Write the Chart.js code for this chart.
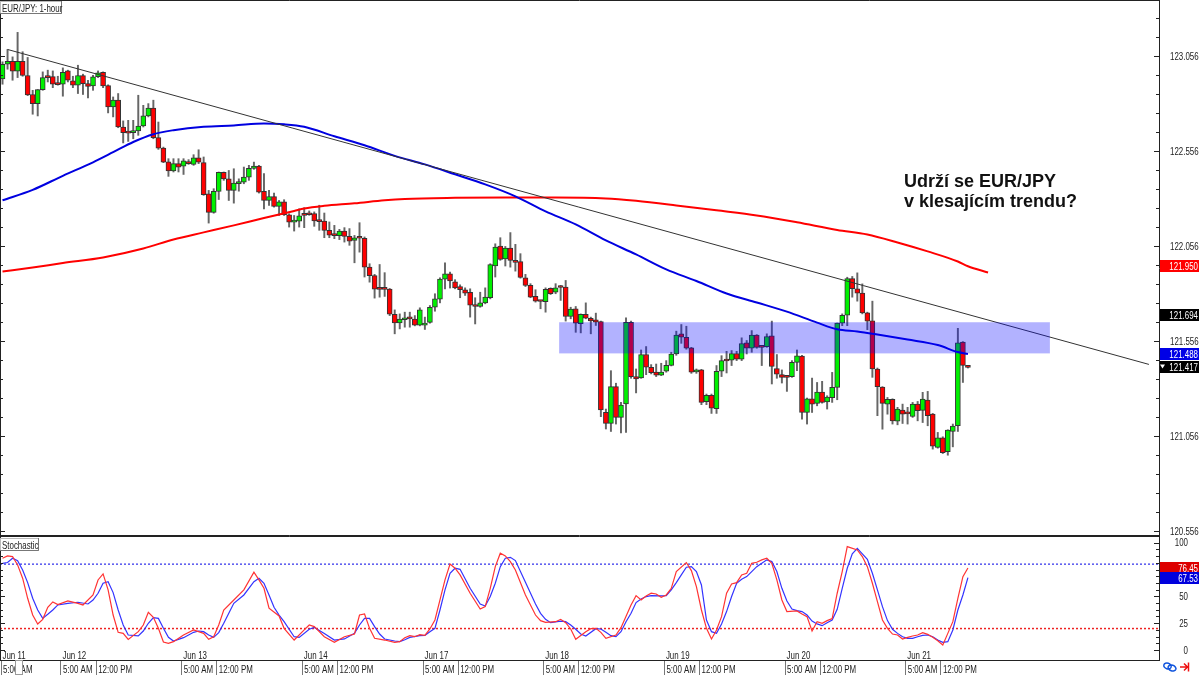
<!DOCTYPE html>
<html>
<head>
<meta charset="utf-8">
<title>EUR/JPY 1-hour</title>
<style>
    html, body { margin: 0; padding: 0; background: #fff; }
    canvas { position: absolute; left: 0; display: block; }
    #priceChart { top: 0; }
    #stochChart { top: 536px; }
</style>
<script src="https://cdn.jsdelivr.net/npm/chart.js@4/dist/chart.umd.min.js"></script>
</head>
<body>
<canvas id="priceChart" width="1200" height="536"></canvas>
<canvas id="stochChart" width="1200" height="139"></canvas>
<script>
// Candles, one entry per hourly bar
const opens = [
    122.936,123.013,123.028,122.977,123.028,122.954,122.854,122.806,122.880,122.948,
    122.948,122.908,122.908,122.978,122.926,122.903,122.954,122.911,122.899,122.948,
    122.970,122.901,122.788,122.824,122.683,122.655,122.653,122.662,122.688,122.741,
    122.783,122.627,122.572,122.500,122.451,122.490,122.476,122.500,122.486,122.520,
    122.495,122.331,122.233,122.344,122.444,122.410,122.349,122.384,122.393,122.419,
    122.465,122.477,122.344,122.296,122.317,122.265,122.289,122.221,122.182,122.187,
    122.223,122.227,122.227,122.190,122.188,122.139,122.116,122.111,122.135,122.107,
    122.086,122.107,122.097,121.945,121.900,121.831,121.831,121.829,121.696,121.652,
    121.668,121.678,121.671,121.640,121.640,121.654,121.734,121.777,121.882,121.910,
    121.868,121.843,121.826,121.812,121.747,121.738,121.757,121.784,121.952,122.056,
    121.989,122.046,121.979,121.974,121.889,121.849,121.792,121.768,121.763,121.833,
    121.813,121.842,121.840,121.685,121.725,121.647,121.696,121.675,121.668,121.659,
    121.181,121.123,121.316,121.154,121.225,121.655,121.369,121.362,121.485,121.418,
    121.392,121.376,121.397,121.428,121.488,121.594,121.576,121.520,121.393,121.404,
    121.237,121.270,121.200,121.397,121.457,121.455,121.490,121.460,121.546,121.518,
    121.588,121.527,121.527,121.583,121.411,121.379,121.369,121.369,121.444,121.477,
    121.180,121.252,121.228,121.287,121.236,121.258,121.312,121.650,121.692,121.885,
    121.831,121.808,121.704,121.662,121.409,121.314,121.224,121.249,121.134,121.192,
    121.180,121.159,121.224,121.191,121.245,121.171,120.996,121.047,120.973,121.080,
    121.110,121.551,121.426
];
const highs = [
    123.026,123.091,123.052,123.181,123.079,123.049,122.876,122.880,122.973,122.982,
    122.978,122.950,122.994,122.982,122.950,123.008,122.961,122.929,122.955,122.978,
    122.973,122.905,122.841,122.859,122.715,122.718,122.718,122.850,122.797,122.806,
    122.824,122.709,122.577,122.516,122.516,122.516,122.516,122.511,122.537,122.563,
    122.525,122.349,122.358,122.446,122.446,122.454,122.463,122.410,122.472,122.481,
    122.498,122.481,122.437,122.349,122.335,122.296,122.300,122.226,122.217,122.252,
    122.258,122.241,122.236,122.271,122.230,122.183,122.165,122.144,122.153,122.148,
    122.112,122.179,122.104,121.963,121.907,121.959,121.916,121.833,121.720,121.699,
    121.708,121.708,121.690,121.731,121.682,121.743,121.805,121.889,121.968,121.919,
    121.879,121.852,121.836,121.831,121.784,121.813,121.836,121.963,122.068,122.100,
    122.054,122.127,122.065,122.016,121.907,121.858,121.826,121.770,121.836,121.836,
    121.858,121.849,121.875,121.734,121.738,121.699,121.757,121.682,121.703,121.661,
    121.198,121.400,121.334,121.233,121.678,121.661,121.409,121.509,121.527,121.432,
    121.435,121.439,121.453,121.497,121.608,121.643,121.634,121.523,121.409,121.407,
    121.277,121.277,121.427,121.479,121.502,121.506,121.502,121.573,121.559,121.611,
    121.590,121.530,121.594,121.661,121.485,121.404,121.374,121.453,121.509,121.481,
    121.256,121.361,121.338,121.344,121.268,121.391,121.651,121.699,121.892,121.896,
    121.915,121.857,121.708,121.766,121.414,121.316,121.259,121.252,121.207,121.224,
    121.207,121.233,121.238,121.286,121.291,121.175,121.075,121.052,121.089,121.119,
    121.623,121.553,121.428
];
const lows = [
    122.908,122.987,122.929,122.943,122.950,122.848,122.750,122.741,122.876,122.920,
    122.890,122.903,122.845,122.920,122.890,122.859,122.854,122.836,122.876,122.943,
    122.890,122.757,122.736,122.679,122.599,122.607,122.621,122.639,122.683,122.736,
    122.621,122.565,122.495,122.423,122.446,122.446,122.433,122.486,122.481,122.490,
    122.323,122.177,122.229,122.301,122.402,122.296,122.282,122.345,122.384,122.402,
    122.460,122.335,122.252,122.270,122.261,122.217,122.217,122.156,122.135,122.156,
    122.153,122.218,122.160,122.139,122.100,122.100,122.095,122.090,122.077,122.060,
    121.968,122.024,121.893,121.866,121.782,121.787,121.791,121.690,121.594,121.620,
    121.629,121.629,121.636,121.636,121.617,121.650,121.713,121.757,121.831,121.835,
    121.831,121.784,121.796,121.682,121.646,121.734,121.752,121.778,121.893,121.981,
    121.951,121.945,121.924,121.887,121.843,121.784,121.761,121.726,121.708,121.801,
    121.805,121.770,121.661,121.673,121.602,121.599,121.673,121.594,121.638,121.158,
    121.093,121.080,121.119,121.072,121.075,121.360,121.283,121.360,121.379,121.383,
    121.369,121.374,121.392,121.425,121.481,121.544,121.513,121.386,121.386,121.221,
    121.221,121.175,121.175,121.369,121.388,121.427,121.453,121.453,121.488,121.497,
    121.518,121.427,121.523,121.330,121.360,121.335,121.291,121.365,121.400,121.145,
    121.119,121.180,121.215,121.229,121.198,121.233,121.247,121.637,121.637,121.787,
    121.766,121.699,121.616,121.365,121.163,121.092,121.171,121.119,121.115,121.122,
    121.119,121.154,121.136,121.127,121.110,120.987,120.992,120.964,120.955,120.999,
    121.080,121.338,121.414
];
const closes = [
    123.013,123.028,122.977,123.028,122.954,122.852,122.806,122.880,122.943,122.943,
    122.908,122.906,122.971,122.929,122.903,122.954,122.911,122.897,122.947,122.968,
    122.899,122.788,122.824,122.683,122.653,122.651,122.662,122.688,122.741,122.783,
    122.627,122.572,122.498,122.451,122.490,122.472,122.505,122.490,122.520,122.498,
    122.326,122.233,122.344,122.444,122.410,122.349,122.388,122.396,122.419,122.465,
    122.477,122.340,122.296,122.317,122.265,122.289,122.221,122.182,122.193,122.215,
    122.218,122.221,122.188,122.185,122.139,122.114,122.111,122.135,122.107,122.082,
    122.100,122.097,121.945,121.900,121.829,121.828,121.828,121.697,121.652,121.671,
    121.678,121.673,121.640,121.720,121.650,121.734,121.778,121.882,121.910,121.873,
    121.836,121.826,121.808,121.745,121.738,121.757,121.787,121.958,122.051,121.986,
    122.046,121.981,121.970,121.891,121.849,121.787,121.766,121.764,121.828,121.805,
    121.836,121.838,121.685,121.724,121.650,121.696,121.676,121.662,121.655,121.193,
    121.123,121.316,121.154,121.219,121.655,121.369,121.356,121.485,121.418,121.390,
    121.376,121.393,121.428,121.488,121.588,121.576,121.518,121.392,121.404,121.233,
    121.270,121.202,121.397,121.453,121.451,121.490,121.460,121.543,121.518,121.588,
    121.523,121.523,121.580,121.423,121.381,121.365,121.365,121.444,121.478,121.180,
    121.252,121.224,121.287,121.233,121.261,121.312,121.650,121.692,121.885,121.832,
    121.808,121.704,121.660,121.409,121.316,121.228,121.249,121.136,121.198,121.171,
    121.173,121.224,121.189,121.250,121.163,121.003,121.047,120.969,121.087,121.108,
    121.546,121.428,121.417
];

// Moving averages, read at the listed bars
const blueMaBars = [0,6,12,18,22,26,30,34,40,46,52,56,60,66,72,78,84,90,96,102,108,114,120,126,132,138,144,150,156,162,166,170,174,180,186,190,192];
const blueMaValues = [122.297,122.352,122.426,122.497,122.550,122.604,122.645,122.666,122.684,122.691,122.701,122.697,122.684,122.634,122.587,122.531,122.486,122.434,122.381,122.318,122.239,122.170,122.086,122.012,121.933,121.872,121.806,121.759,121.711,121.653,121.618,121.606,121.590,121.564,121.535,121.498,121.488];
const redMaBars = [0,6,12,20,28,34,40,46,52,58,60,64,70,76,80,90,100,110,120,126,134,142,150,158,166,172,178,184,190,192,196];
const redMaValues = [121.922,121.943,121.967,121.996,122.043,122.091,122.128,122.165,122.204,122.241,122.254,122.268,122.281,122.297,122.304,122.310,122.312,122.312,122.307,122.294,122.270,122.244,122.217,122.181,122.141,122.117,122.075,122.028,121.975,121.950,121.917];

// Trend line and the shaded zone
const trendBars = [1, 228];
const trendValues = [123.091, 121.433];
const zoneBars = [110.7, 208.3];
const zoneValues = [121.655, 121.491];

// Stochastic, read at the listed bars
const kBars = [0,1,2,3,4,5,6,7,8,9,10,11,13,15,16,18,19,20,21,22,23,24,25,27,28,29,30,31,32,33,34,36,38,40,41,42,43,44,46,48,50,51,52,53,55,56,58,60,61,62,64,66,68,70,71,72,73,74,76,78,79,80,81,82,83,84,85,86,88,89,90,91,93,95,96,97,98,99,100,101,102,104,106,107,108,110,111,112,113,114,116,117,118,119,120,122,123,125,126,127,128,129,130,131,132,133,134,136,137,138,139,140,141,142,143,144,145,146,147,148,149,150,151,152,153,154,155,156,158,159,160,161,162,163,164,165,166,167,168,170,171,172,173,174,175,176,177,178,179,180,181,182,183,184,185,186,187,188,189,190,191,192];
const kValues = [85.5,87.7,87.1,79.3,66.9,48.2,32.6,24.3,28.6,39.8,44.8,42.3,45.7,43.5,42.0,51.3,65.3,70.9,56.0,32.6,16.5,15.5,9.9,17.1,23.3,35.1,30.5,20.2,7.5,6.2,7.8,14.0,18.7,15.5,10.0,12.4,23.3,37.3,46.6,56.0,72.5,65.3,57.5,38.9,31.7,20.2,9.3,18.7,23.3,21.8,12.4,7.2,12.4,14.9,32.6,33.6,20.2,10.9,9.3,7.2,7.8,11.5,13.4,12.4,14.3,13.7,19.6,28.0,65.3,80.2,76.2,70.0,52.9,38.2,40.4,57.5,77.7,90.2,87.7,82.4,74.6,51.3,32.6,27.4,25.8,26.4,28.6,25.5,19.6,10.0,17.1,19.9,20.2,16.5,10.9,14.0,20.8,42.0,50.7,46.6,50.4,52.9,52.2,49.1,51.3,57.5,73.1,81.5,74.0,59.1,37.3,20.2,10.3,18.7,31.1,52.9,61.6,62.8,70.0,71.5,80.8,81.8,84.0,85.5,80.8,65.3,46.6,35.8,36.4,33.6,31.1,17.7,26.4,24.9,27.4,29.2,52.9,73.1,96.4,93.3,87.1,77.7,62.2,45.1,28.0,20.2,14.9,14.0,10.3,11.8,13.1,14.0,16.2,14.6,11.8,8.7,4.7,15.5,26.4,48.2,68.4,76.45];
const dBars = [0,1,2,3,4,5,6,7,8,9,10,11,13,15,17,18,19,20,21,22,23,24,25,27,28,29,30,31,32,33,34,36,38,39,40,41,42,43,44,45,46,48,50,51,52,53,54,55,56,58,59,61,62,64,66,68,70,71,72,73,74,75,76,78,79,80,81,83,84,85,86,87,88,89,90,91,93,95,96,97,98,99,100,101,102,104,106,107,108,109,111,112,113,114,115,116,118,119,120,121,122,123,124,125,126,127,128,129,131,132,133,134,135,136,137,138,139,140,141,142,143,144,145,146,147,148,149,150,151,152,153,154,155,156,157,158,159,160,161,162,163,164,165,166,167,168,169,170,171,172,173,174,175,176,177,178,179,180,181,182,183,184,185,186,187,188,189,190,191,192];
const dValues = [80.8,81.5,85.5,83.3,74.6,62.8,48.2,37.3,29.5,33.3,37.3,42.0,43.5,44.5,42.9,46.6,52.9,62.2,63.7,53.5,37.3,23.3,14.0,13.1,17.7,24.9,30.2,29.5,20.2,11.8,8.4,11.5,16.5,17.7,17.1,14.0,11.8,16.2,24.9,34.2,43.5,51.3,63.7,66.9,62.2,51.3,39.8,32.6,26.4,12.4,11.8,19.3,21.1,15.5,9.3,10.3,15.5,23.3,29.5,29.5,21.8,14.9,10.3,8.4,7.8,9.6,11.8,13.4,13.7,17.1,20.2,37.3,56.0,71.5,76.2,75.2,57.5,42.9,41.0,49.8,62.2,77.7,85.5,86.4,83.3,63.1,42.9,34.2,28.6,25.5,27.0,26.4,23.3,19.3,14.9,13.1,19.9,19.6,16.5,13.4,12.4,17.1,26.4,34.2,44.2,47.6,49.8,50.7,50.4,50.7,56.0,62.8,70.0,77.1,77.7,73.1,60.6,28.0,17.1,15.5,24.3,35.8,49.8,62.2,65.9,68.4,73.1,77.7,80.8,84.0,82.4,73.1,57.5,45.7,38.2,36.7,35.8,32.6,27.0,24.3,22.7,25.5,28.0,37.9,57.5,76.2,89.6,94.8,89.6,84.6,71.5,56.0,40.4,27.4,19.3,15.5,12.4,10.9,10.9,12.4,13.7,14.0,12.4,9.3,7.2,7.8,18.7,37.3,51.3,67.53];
const stochLevels = [80, 20];

// Axis ticks
const priceTicks = [123.256,123.156,123.056,122.956,122.856,122.756,122.656,122.556,122.456,122.356,122.256,122.156,122.056,121.956,121.856,121.756,121.656,121.556,121.456,121.356,121.256,121.156,121.056,120.956,120.856,120.756,120.656,120.556];
const priceLabels = [123.056,122.556,122.056,121.556,121.056,120.556];
const stochTicks = [100,93.75,87.5,81.25,75,68.75,62.5,56.25,50,43.75,37.5,31.25,25,18.75,12.5,6.25,0];
const stochLabels = [100,50,25,0];
const hourTickBars = [-0.3,11.63,18.63,35.63,42.63,59.63,66.63,83.63,90.63,107.63,114.63,131.63,138.63,155.63,162.63,179.63,186.63];
const hourTickLabels = ['5:00 AM','5:00 AM','12:00 PM','5:00 AM','12:00 PM','5:00 AM','12:00 PM','5:00 AM','12:00 PM','5:00 AM','12:00 PM','5:00 AM','12:00 PM','5:00 AM','12:00 PM','5:00 AM','12:00 PM'];
const dateTickBars = [-0.3,11.63,35.63,59.63,83.63,107.63,131.63,155.63,179.63];
const dateLabels = ['Jun 11','Jun 12','Jun 13','Jun 14','Jun 17','Jun 18','Jun 19','Jun 20','Jun 21'];

// Price tags on the right edge
const priceTagValues = [121.950, 121.694, 121.488, 121.417];
const priceTagColors = ['#ff0000', '#000000', '#0000e6', '#000000'];
const stochTagValues = [76.45, 67.53];
const stochTagColors = ['#dd0000', '#0000dd'];

const FONT = '"Liberation Sans", Arial, sans-serif';
const AXIS_COLOR = '#222';
const TEXT_COLOR = '#222';
const UP = '#00f000';
const DOWN = '#ff0000';

// the platform font is narrower than anything installed, so squeeze it
const NARROW = 0.72;

// one bar per hour on both panes, so the two x scales must match
const BAR_MIN = -0.5;
const BAR_MAX = 230;

function pairs(xs, ys) {
    return xs.map((x, i) => ({ x: x, y: ys[i] }));
}

function lineSet(data, color, width, order) {
    return {
        type: 'line',
        data: data,
        borderColor: color,
        borderWidth: width,
        pointRadius: 0,
        tension: 0,
        order: order
    };
}

function maSet(data, color, order) {
    const set = lineSet(data, color, 2, order);
    set.cubicInterpolationMode = 'monotone';
    return set;
}

function setTicks(values) {
    return function (scale) {
        scale.ticks = values.map(v => ({ value: v }));
    };
}

// labels must not push the plot area in from the canvas edge
function noPadding(scale) {
    scale.paddingTop = 0;
    scale.paddingBottom = 0;
    scale.paddingLeft = 0;
    scale.paddingRight = 0;
}

function narrowText(ctx, text, x, y, color, align, baseline) {
    ctx.save();
    ctx.translate(x, y);
    ctx.scale(NARROW, 1);
    ctx.fillStyle = color;
    ctx.font = '11px ' + FONT;
    ctx.textAlign = align;
    ctx.textBaseline = baseline;
    ctx.fillText(text, 0, 0);
    ctx.restore();
}

function labelBox(ctx, text, x, y, w, h) {
    ctx.fillStyle = '#fff';
    ctx.fillRect(x, y, w, h);
    ctx.lineWidth = 1;
    ctx.strokeStyle = '#bbb';
    ctx.strokeRect(x + 0.5, y + 0.5, w - 1, h - 1);
    ctx.strokeStyle = '#777';
    ctx.beginPath();
    ctx.moveTo(x + w - 0.5, y);
    ctx.lineTo(x + w - 0.5, y + h - 0.5);
    ctx.lineTo(x, y + h - 0.5);
    ctx.stroke();
    narrowText(ctx, text, x + 2, y + 10.5, TEXT_COLOR, 'left', 'alphabetic');
}

function drawTags(ctx, scale, values, colors, decimals) {
    values.forEach((v, i) => {
        const y = Math.round(scale.getPixelForValue(v));
        ctx.fillStyle = colors[i];
        ctx.fillRect(1160, y - 6, 39, 12);
        narrowText(ctx, v.toFixed(decimals), 1198, y + 0.5, '#fff', 'right', 'middle');
    });
}

// short marks on both edges, longer where a label sits
function drawEdgeTicks(ctx, scale, labelled, right) {
    ctx.strokeStyle = AXIS_COLOR;
    ctx.lineWidth = 1;
    scale.ticks.forEach(t => {
        const y = Math.round(scale.getPixelForValue(t.value)) + 0.5;
        const len = labelled.includes(t.value) ? 5 : 3;
        ctx.beginPath();
        ctx.moveTo(right - len, y);
        ctx.lineTo(right, y);
        ctx.moveTo(0, y);
        ctx.lineTo(len, y);
        ctx.stroke();
    });
}

const pricePanePlugin = {
    id: 'pricePane',
    afterDatasetsDraw(chart) {
        const ctx = chart.ctx;
        const x = chart.scales.x;
        const y = chart.scales.y;

        // shaded zone sits over the candles
        const zx = x.getPixelForValue(zoneBars[0]);
        const zy = y.getPixelForValue(zoneValues[0]);
        ctx.fillStyle = 'rgba(0, 0, 255, 0.3)';
        ctx.fillRect(zx, zy, x.getPixelForValue(zoneBars[1]) - zx, y.getPixelForValue(zoneValues[1]) - zy);
    },
    afterDraw(chart) {
        const ctx = chart.ctx;
        const y = chart.scales.y;
        ctx.save();
        drawEdgeTicks(ctx, y, priceLabels, 1159);

        priceLabels.forEach(v => {
            narrowText(ctx, v.toFixed(3), 1170, y.getPixelForValue(v) + 0.5, TEXT_COLOR, 'left', 'middle');
        });

        ctx.strokeStyle = AXIS_COLOR;
        ctx.lineWidth = 1;
        ctx.beginPath();
        ctx.moveTo(0.5, 0);
        ctx.lineTo(0.5, 536);
        ctx.moveTo(0, 0.5);
        ctx.lineTo(1159, 0.5);
        ctx.moveTo(0, 535.5);
        ctx.lineTo(1159, 535.5);
        ctx.stroke();

        drawTags(ctx, y, priceTagValues, priceTagColors, 3);
        // last price marker
        ctx.fillStyle = '#fff';
        ctx.beginPath();
        const ty = y.getPixelForValue(121.417);
        ctx.moveTo(1160, ty - 3);
        ctx.lineTo(1165, ty - 3);
        ctx.lineTo(1162.5, ty + 1);
        ctx.fill();

        labelBox(ctx, 'EUR/JPY: 1-hour', 0, 1, 62, 13);

        ctx.fillStyle = '#111';
        ctx.font = 'bold 18px ' + FONT;
        ctx.textAlign = 'left';
        ctx.textBaseline = 'alphabetic';
        ctx.fillText('Udrží se EUR/JPY', 904, 186.5);
        ctx.fillText('v klesajícím trendu?', 904, 207);
        ctx.restore();
    }
};

const stochPanePlugin = {
    id: 'stochPane',
    afterDraw(chart) {
        const ctx = chart.ctx;
        const x = chart.scales.x;
        const y = chart.scales.y;
        ctx.save();
        drawEdgeTicks(ctx, y, stochLabels, 1159);

        stochLabels.forEach(v => {
            narrowText(ctx, String(v), 1188, y.getPixelForValue(v) + 0.5, TEXT_COLOR, 'right', 'middle');
        });

        ctx.strokeStyle = AXIS_COLOR;
        ctx.lineWidth = 1;
        ctx.beginPath();
        ctx.moveTo(0.5, 0);
        ctx.lineTo(0.5, 124);
        ctx.moveTo(0, 0.5);
        ctx.lineTo(1159, 0.5);
        ctx.stroke();

        drawTags(ctx, y, stochTagValues, stochTagColors, 2);
        labelBox(ctx, 'Stochastic', 0, 2, 39, 13);

        dateTickBars.forEach((bar, i) => {
            narrowText(ctx, dateLabels[i], x.getPixelForValue(bar) + 1.5, 122.5, TEXT_COLOR, 'left', 'alphabetic');
        });
        hourTickBars.forEach((bar, i) => {
            narrowText(ctx, hourTickLabels[i], x.getPixelForValue(bar) + 2, 137, TEXT_COLOR, 'left', 'alphabetic');
        });

        // little box that covers the first time label
        ctx.fillStyle = '#fff';
        ctx.fillRect(15, 124, 8, 15);
        ctx.strokeStyle = '#999';
        ctx.strokeRect(15.5, 124.5, 7, 14);

        // link and jump icons in the corner
        ctx.strokeStyle = '#1155dd';
        ctx.lineWidth = 1.5;
        ctx.beginPath();
        ctx.ellipse(1167.5, 130, 3.8, 2.8, 0.3, 0, Math.PI * 2);
        ctx.moveTo(1176, 132);
        ctx.ellipse(1172, 132, 4, 2.8, 0.3, 0, Math.PI * 2);
        ctx.stroke();
        ctx.strokeStyle = '#ee1111';
        ctx.beginPath();
        ctx.moveTo(1180, 131);
        ctx.lineTo(1187, 131);
        ctx.moveTo(1184, 127.5);
        ctx.lineTo(1187.5, 131);
        ctx.lineTo(1184, 134.5);
        ctx.moveTo(1188.5, 126.5);
        ctx.lineTo(1188.5, 135.5);
        ctx.stroke();
        ctx.restore();
    }
};

const wickData = highs.map((h, i) => ({ x: i, y: [lows[i], h] }));
const bodyData = opens.map((o, i) => ({ x: i, y: [o, closes[i]] }));
const bodyColors = opens.map((o, i) => (closes[i] >= o ? UP : DOWN));

new Chart(document.getElementById('priceChart').getContext('2d'), {
    type: 'bar',
    data: {
        datasets: [
            {
                data: wickData,
                backgroundColor: '#666',
                barThickness: 1.3,
                grouped: false,
                borderSkipped: false,
                order: 6
            },
            {
                data: bodyData,
                backgroundColor: bodyColors,
                borderColor: '#333',
                borderWidth: 1,
                barThickness: 5,
                minBarLength: 2,
                grouped: false,
                borderSkipped: false,
                order: 5
            },
            maSet(pairs(redMaBars, redMaValues), '#ff0000', 3),
            maSet(pairs(blueMaBars, blueMaValues), '#0000e0', 2),
            lineSet(pairs(trendBars, trendValues), '#333', 1, 1)
        ]
    },
    plugins: [pricePanePlugin],
    options: {
        responsive: false,
        animation: false,
        events: [],
        layout: { padding: 0 },
        plugins: { legend: { display: false }, tooltip: { enabled: false } },
        scales: {
            x: {
                type: 'linear',
                display: false,
                offset: false,
                min: BAR_MIN,
                max: BAR_MAX
            },
            y: {
                position: 'right',
                min: 120.5297,
                max: 123.3514,
                afterBuildTicks: setTicks(priceTicks),
                afterFit(scale) { scale.width = 41; noPadding(scale); },
                border: { color: AXIS_COLOR },
                grid: { drawOnChartArea: false, drawTicks: false },
                ticks: { display: false, autoSkip: false }
            }
        }
    }
});

new Chart(document.getElementById('stochChart').getContext('2d'), {
    type: 'line',
    data: {
        datasets: [
            lineSet(pairs(dBars, dValues), '#3333ff', 1.2, 2),
            lineSet(pairs(kBars, kValues), '#ff3333', 1.2, 1),
            Object.assign(lineSet(pairs([BAR_MIN, BAR_MAX], [stochLevels[0], stochLevels[0]]), '#5555ee', 1.5, 3), { borderDash: [2, 2] }),
            Object.assign(lineSet(pairs([BAR_MIN, BAR_MAX], [stochLevels[1], stochLevels[1]]), '#ee2222', 1.5, 3), { borderDash: [2, 2] })
        ]
    },
    plugins: [stochPanePlugin],
    options: {
        responsive: false,
        animation: false,
        events: [],
        layout: { padding: 0 },
        plugins: { legend: { display: false }, tooltip: { enabled: false } },
        scales: {
            x: {
                type: 'linear',
                offset: false,
                min: BAR_MIN,
                max: BAR_MAX,
                afterBuildTicks: setTicks(hourTickBars),
                afterFit(scale) { scale.height = 15; noPadding(scale); },
                border: { color: AXIS_COLOR },
                grid: { drawOnChartArea: false, tickLength: 15, tickColor: '#777' },
                ticks: { display: false, autoSkip: false }
            },
            y: {
                position: 'right',
                min: -9.3,
                max: 106.24,
                afterBuildTicks: setTicks(stochTicks),
                afterFit(scale) { scale.width = 41; noPadding(scale); },
                border: { color: AXIS_COLOR },
                grid: { drawOnChartArea: false, drawTicks: false },
                ticks: { display: false, autoSkip: false }
            }
        }
    }
});
</script>
</body>
</html>
